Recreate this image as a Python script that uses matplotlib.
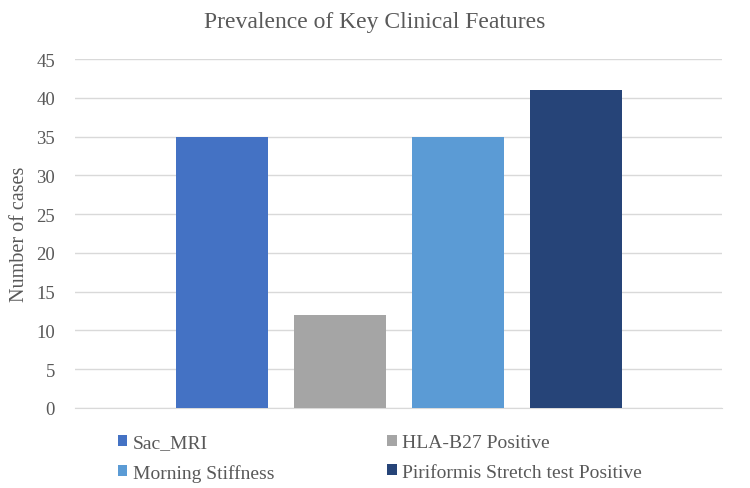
import matplotlib.pyplot as plt
from matplotlib.patches import Patch

features = ["Sac_MRI", "HLA-B27 Positive", "Morning Stiffness", "Piriformis Stretch test Positive"]
cases = [35, 12, 35, 41]
colors = ["#4472C4", "#A5A5A5", "#5B9BD5", "#264478"]
yticks = [0, 5, 10, 15, 20, 25, 30, 35, 40, 45]

plt.rcParams["font.family"] = ["Liberation Serif", "DejaVu Serif"]
text_color = "#595959"

fig = plt.figure(figsize=(7.5, 4.89), dpi=100)
ax = fig.add_axes([0.1, 0.1636, 0.863, 0.7137])

xs = list(range(len(features)))
ax.bar(xs, cases, width=0.78, color=colors, zorder=3)

ax.set_ylim(0, 45)
ax.set_xlim(-1.25, 4.24)
ax.set_yticks(yticks)
ax.set_xticks([])
ax.grid(axis="y", color="#D9D9D9", linewidth=1, zorder=0)
for s in ["top", "right", "left"]:
    ax.spines[s].set_visible(False)
ax.spines["bottom"].set_color("#D9D9D9")
ax.tick_params(axis="y", length=0, labelsize=13.5, labelcolor=text_color, pad=14.4)
ax.set_ylabel("Number of cases", fontsize=14.5, color=text_color, labelpad=5)

fig.suptitle("Prevalence of Key Clinical Features", fontsize=17, color=text_color, y=0.975)

# legend is filled column by column, so reorder to get row-major layout
order = [0, 2, 1, 3]
handles = [Patch(facecolor=colors[i], edgecolor="none") for i in order]
labels = [features[i] for i in order]
fig.legend(handles, labels, ncol=2, loc="upper left", bbox_to_anchor=(0.157, 0.110),
           frameon=False, fontsize=14, labelcolor=text_color,
           handlelength=0.5, handleheight=0.5, handletextpad=0.26,
           columnspacing=5.8, labelspacing=0.65, borderpad=0, borderaxespad=0)

fig.savefig("out.png", dpi=100)
